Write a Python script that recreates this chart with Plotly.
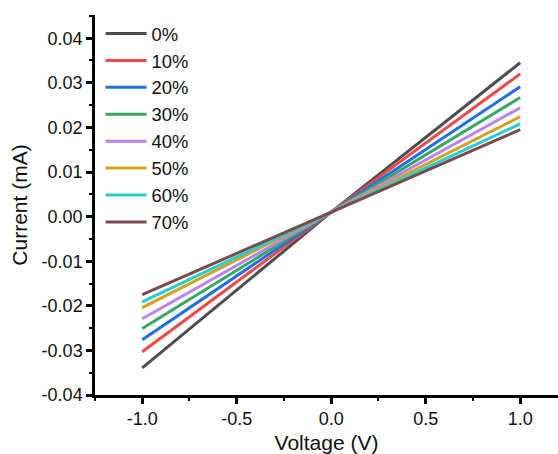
import plotly.graph_objects as go

# Sweep voltages (V)
voltage = [-1.0, 0.0, 1.0]

labels = ["0%", "10%", "20%", "30%", "40%", "50%", "60%", "70%"]

# Current (mA) at each sweep voltage, per strain level
current_0 = [-0.0339, 0.0010, 0.0345]
current_10 = [-0.0303, 0.0010, 0.0320]
current_20 = [-0.0276, 0.0010, 0.0291]
current_30 = [-0.0251, 0.0010, 0.0267]
current_40 = [-0.0229, 0.0010, 0.0244]
current_50 = [-0.0204, 0.0010, 0.0224]
current_60 = [-0.0191, 0.0010, 0.0208]
current_70 = [-0.0175, 0.0010, 0.0195]

series = [current_0, current_10, current_20, current_30,
          current_40, current_50, current_60, current_70]

colors = ["#4d4d4d", "#f24848", "#1f6ee6", "#36a862",
          "#b982ee", "#d4a11c", "#22d0d4", "#7b4a4a"]

FONT = "Liberation Sans, Arial, sans-serif"

fig = go.Figure()
for lab, ys, col in zip(labels, series, colors):
    fig.add_trace(go.Scatter(
        x=voltage, y=ys, mode="lines", name=lab,
        line=dict(color=col, width=3),
    ))

fig.update_layout(
    width=558, height=454,
    margin=dict(l=95, r=0, t=15, b=59),
    paper_bgcolor="white", plot_bgcolor="white",
    font=dict(family=FONT, size=18, color="#111"),
    showlegend=True,
    legend=dict(
        x=0.012, y=1.0, xanchor="left", yanchor="top",
        bgcolor="rgba(0,0,0,0)",
        font=dict(family=FONT, size=18.4, color="#111"),
        itemwidth=41,
        traceorder="normal",
    ),
    xaxis=dict(
        range=[-1.25, 1.2],
        tickmode="array", tickvals=[-1.0, -0.5, 0.0, 0.5, 1.0],
        ticktext=["-1.0", "-0.5", "0.0", "0.5", "1.0"],
        tickfont=dict(size=18),
        ticks="outside", ticklen=6, tickwidth=2.5, tickcolor="black",
        minor=dict(ticks="outside", ticklen=3, tickwidth=2, dtick=0.25, tick0=0, tickcolor="black"),
        showline=True, linewidth=2.5, linecolor="black",
        showgrid=False, zeroline=False,
        title=dict(text="Voltage (V)", standoff=7, font=dict(size=21)),
    ),
    yaxis=dict(
        range=[-0.04, 0.0452],
        tickmode="array",
        tickvals=[-0.04, -0.03, -0.02, -0.01, 0.0, 0.01, 0.02, 0.03, 0.04],
        ticktext=["-0.04", "-0.03", "-0.02", "-0.01", "0.00", "0.01", "0.02", "0.03", "0.04"],
        tickfont=dict(size=18),
        ticks="outside", ticklen=6, tickwidth=2.5, tickcolor="black",
        minor=dict(ticks="outside", ticklen=3, tickwidth=2, dtick=0.005, tick0=0, tickcolor="black"),
        showline=True, linewidth=2.5, linecolor="black",
        showgrid=False, zeroline=False,
        title=dict(text="Current (mA)", standoff=9, font=dict(size=21)),
    ),
)

fig.write_html("out.html")
